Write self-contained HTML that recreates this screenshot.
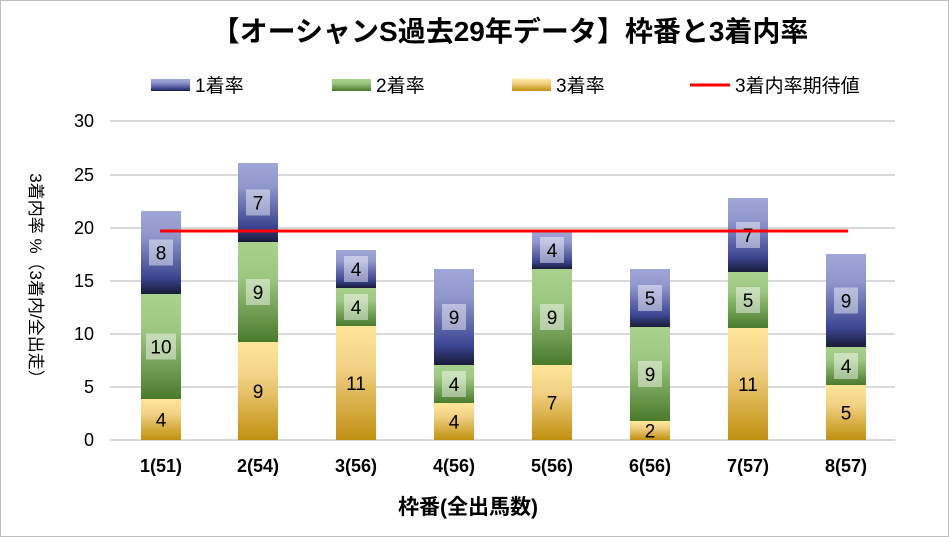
<!DOCTYPE html>
<html><head><meta charset="utf-8"><style>
html,body{margin:0;padding:0;background:#fff}
svg{display:block;font-family:"Liberation Sans","Noto Sans CJK JP",sans-serif}
</style></head><body>
<svg width="949" height="537" viewBox="0 0 949 537" xmlns="http://www.w3.org/2000/svg">
<defs>
<linearGradient id="gb" x1="0" y1="0" x2="0" y2="1">
<stop offset="0" stop-color="#a0a6d6"/><stop offset="0.3" stop-color="#9097cc"/><stop offset="0.8" stop-color="#3c4592"/><stop offset="1" stop-color="#191b38"/></linearGradient>
<linearGradient id="gg" x1="0" y1="0" x2="0" y2="1">
<stop offset="0" stop-color="#a9d18e"/><stop offset="0.35" stop-color="#9cc781"/><stop offset="1" stop-color="#4a7a2c"/></linearGradient>
<linearGradient id="gy" x1="0" y1="0" x2="0" y2="1">
<stop offset="0" stop-color="#ffe699"/><stop offset="0.35" stop-color="#f2d285"/><stop offset="1" stop-color="#c0900f"/></linearGradient>
</defs>
<rect x="0.5" y="0.5" width="948" height="536" fill="#fff" stroke="#bfbfbf"/>
<text x="510" y="41" font-size="28" font-weight="bold" text-anchor="middle" fill="#000">【オーシャンS過去29年データ】枠番と3着内率</text>
<rect x="151" y="79" width="39" height="12" fill="url(#gb)"/><text x="195" y="92" font-size="19">1着率</text>
<rect x="332" y="79" width="39" height="12" fill="url(#gg)"/><text x="376" y="92" font-size="19">2着率</text>
<rect x="512" y="79" width="39" height="12" fill="url(#gy)"/><text x="556" y="92" font-size="19">3着率</text>
<line x1="690" y1="85" x2="730" y2="85" stroke="#ff0000" stroke-width="3"/><text x="735" y="92" font-size="19">3着内率期待値</text>
<g stroke="#d9d9d9" stroke-width="2">
<line x1="110" y1="121" x2="895" y2="121"/><line x1="110" y1="175" x2="895" y2="175"/><line x1="110" y1="228" x2="895" y2="228"/><line x1="110" y1="281" x2="895" y2="281"/><line x1="110" y1="334" x2="895" y2="334"/><line x1="110" y1="387" x2="895" y2="387"/><line x1="110" y1="440" x2="895" y2="440"/>
</g>
<g font-size="18" text-anchor="end" fill="#000">
<text x="94" y="127">30</text><text x="94" y="181">25</text><text x="94" y="234">20</text><text x="94" y="287">15</text><text x="94" y="340">10</text><text x="94" y="393">5</text><text x="94" y="446">0</text>
</g>
<text transform="translate(30,280) rotate(90)" font-size="17" text-anchor="middle">3着内率 %（3着内/全出走）</text>
<g>
<rect x="141" y="399" width="40" height="41" fill="url(#gy)"/><rect x="141" y="294" width="40" height="105" fill="url(#gg)"/><rect x="141" y="211" width="40" height="83" fill="url(#gb)"/>
<rect x="238" y="342" width="40" height="98" fill="url(#gy)"/><rect x="238" y="242" width="40" height="100" fill="url(#gg)"/><rect x="238" y="163" width="40" height="79" fill="url(#gb)"/>
<rect x="336" y="326" width="40" height="114" fill="url(#gy)"/><rect x="336" y="288" width="40" height="38" fill="url(#gg)"/><rect x="336" y="250" width="40" height="38" fill="url(#gb)"/>
<rect x="434" y="403" width="40" height="37" fill="url(#gy)"/><rect x="434" y="365" width="40" height="38" fill="url(#gg)"/><rect x="434" y="269" width="40" height="96" fill="url(#gb)"/>
<rect x="532" y="365" width="40" height="75" fill="url(#gy)"/><rect x="532" y="269" width="40" height="96" fill="url(#gg)"/><rect x="532" y="231" width="40" height="38" fill="url(#gb)"/>
<rect x="630" y="421" width="40" height="19" fill="url(#gy)"/><rect x="630" y="327" width="40" height="94" fill="url(#gg)"/><rect x="630" y="269" width="40" height="58" fill="url(#gb)"/>
<rect x="728" y="328" width="40" height="112" fill="url(#gy)"/><rect x="728" y="272" width="40" height="56" fill="url(#gg)"/><rect x="728" y="198" width="40" height="74" fill="url(#gb)"/>
<rect x="826" y="385" width="40" height="55" fill="url(#gy)"/><rect x="826" y="347" width="40" height="38" fill="url(#gg)"/><rect x="826" y="254" width="40" height="93" fill="url(#gb)"/>
</g>
<g fill="#fff" fill-opacity="0.45">
<rect x="146" y="333.5" width="30" height="26"/><rect x="149" y="239.5" width="24" height="26"/>
<rect x="246" y="279" width="24" height="26"/><rect x="246" y="189.5" width="24" height="26"/>
<rect x="344" y="294" width="24" height="26"/><rect x="344" y="256" width="24" height="26"/>
<rect x="442" y="371" width="24" height="26"/><rect x="442" y="304" width="24" height="26"/>
<rect x="540" y="304" width="24" height="26"/><rect x="540" y="237" width="24" height="26"/>
<rect x="638" y="361" width="24" height="26"/><rect x="638" y="285" width="24" height="26"/>
<rect x="736" y="287" width="24" height="26"/><rect x="736" y="222" width="24" height="26"/>
<rect x="834" y="353" width="24" height="26"/><rect x="834" y="287.5" width="24" height="26"/>
</g>
<g font-size="19" text-anchor="middle" fill="#000">
<text x="161" y="426.5">4</text><text x="161" y="353.5">10</text><text x="161" y="259.5">8</text>
<text x="258" y="398">9</text><text x="258" y="299">9</text><text x="258" y="209.5">7</text>
<text x="356" y="390">11</text><text x="356" y="314">4</text><text x="356" y="276">4</text>
<text x="454" y="428.5">4</text><text x="454" y="391">4</text><text x="454" y="324">9</text>
<text x="552" y="409.5">7</text><text x="552" y="324">9</text><text x="552" y="257">4</text>
<text x="650" y="437.5">2</text><text x="650" y="381">9</text><text x="650" y="305">5</text>
<text x="748" y="391">11</text><text x="748" y="307">5</text><text x="748" y="242">7</text>
<text x="846" y="419.5">5</text><text x="846" y="373">4</text><text x="846" y="307.5">9</text>
</g>
<line x1="160" y1="231" x2="848" y2="231" stroke="#ff0000" stroke-width="3"/>
<g font-size="18" font-weight="bold" text-anchor="middle">
<text x="161" y="472">1(51)</text><text x="258" y="472">2(54)</text><text x="356" y="472">3(56)</text><text x="454" y="472">4(56)</text><text x="552" y="472">5(56)</text><text x="650" y="472">6(56)</text><text x="748" y="472">7(57)</text><text x="846" y="472">8(57)</text>
</g>
<text x="468" y="514" font-size="21" font-weight="bold" text-anchor="middle">枠番(全出馬数)</text>
</svg>
</body></html>
